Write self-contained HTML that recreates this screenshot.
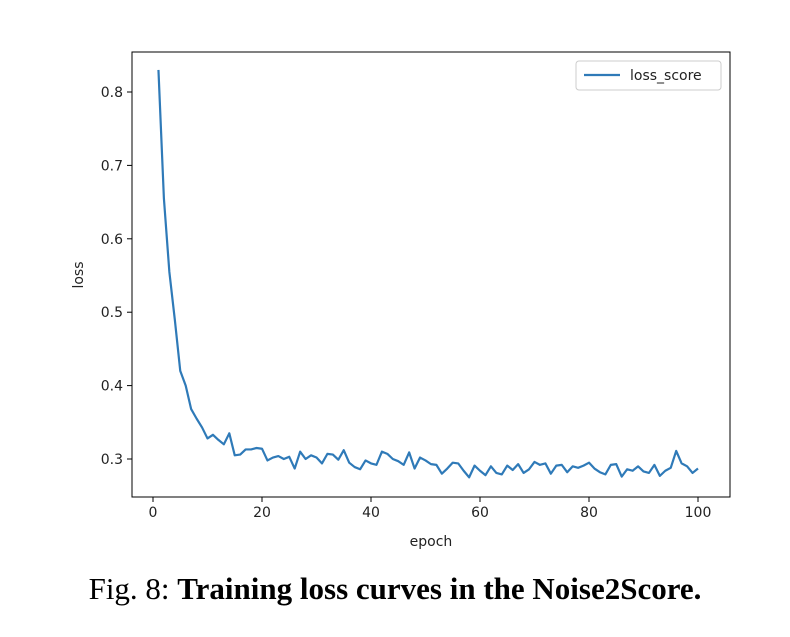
<!DOCTYPE html>
<html><head><meta charset="utf-8"><style>
body{margin:0;background:#fff;width:790px;height:637px;overflow:hidden}
svg text{font-family:"DejaVu Sans","Liberation Sans",sans-serif}
.cap{position:absolute;left:0;top:571px;width:790px;text-align:center;font-family:"Liberation Serif",serif;font-size:31px;color:#000;white-space:nowrap}
</style></head><body>
<svg id="chart" width="790" height="637" style="position:absolute;left:0;top:0"></svg>
<div class="cap">Fig. 8: <b>Training loss curves in the Noise2Score.</b></div>
<script>
const epochs = Array.from({length:100},(_,i)=>i+1);
const lossScore = [0.83,0.655,0.555,0.49,0.42,0.40,0.368,0.355,0.343,0.328,0.333,0.326,0.320,0.335,0.305,
0.306,0.313,0.313,0.315,0.314,0.298,0.302,0.304,0.300,0.303,0.287,0.310,0.300,0.305,0.302,
0.294,0.307,0.306,0.299,0.312,0.295,0.289,0.286,0.298,0.294,0.292,0.310,0.307,0.300,0.297,
0.292,0.309,0.287,0.302,0.298,0.293,0.292,0.280,0.287,0.295,0.294,0.284,0.275,0.291,0.284,
0.278,0.290,0.281,0.279,0.291,0.285,0.293,0.281,0.286,0.296,0.292,0.294,0.280,0.291,0.292,
0.282,0.290,0.288,0.291,0.295,0.287,0.282,0.279,0.292,0.293,0.276,0.286,0.284,0.290,0.283,
0.281,0.292,0.277,0.284,0.288,0.311,0.294,0.290,0.281,0.287];
const xTicks = [0,20,40,60,80,100];
const yTicks = [0.3,0.4,0.5,0.6,0.7,0.8];
const L=132,R=730,T=52,B=497;
const xS=v=>153+(v-0)*(698-153)/100;
const yS=v=>459-(v-0.3)*(459-92)/0.5;
const svg=document.getElementById('chart');
const NS='http://www.w3.org/2000/svg';
function mk(t,a,p){const e=document.createElementNS(NS,t);for(const k in a)e.setAttribute(k,a[k]);(p||svg).appendChild(e);return e;}
let frame=mk('rect',{x:L,y:T,width:R-L,height:B-T,fill:'none',stroke:'#000','stroke-width':1});


xTicks.forEach(v=>{
  const g=mk('g',{});
  
  
  mk('line',{x1:xS(v),x2:xS(v),y1:B,y2:B+5,stroke:'#000'},g);
  const t=mk('text',{x:xS(v),y:B+20,'text-anchor':'middle','font-size':14,fill:'#222'},g);t.textContent=v;
});
yTicks.forEach(v=>{
  const g=mk('g',{});
  
  
  mk('line',{x1:L-5,x2:L,y1:yS(v),y2:yS(v),stroke:'#000'},g);
  const t=mk('text',{x:L-9,y:yS(v)+5,'text-anchor':'end','font-size':14,fill:'#222'},g);t.textContent=v.toFixed(1);
});
let xt=mk('text',{x:431,y:546,'text-anchor':'middle','font-size':14,fill:'#222'});xt.textContent='epoch';


let yt=mk('text',{x:83,y:275,'text-anchor':'middle','font-size':14,fill:'#222',transform:'rotate(-90 83 275)'});yt.textContent='loss';


let line=mk('polyline',{points:epochs.map((e,i)=>xS(e)+','+yS(lossScore[i])).join(' '),fill:'none',stroke:'#2f7ab8','stroke-width':2.2,'stroke-linejoin':'round'});


const lg=mk('g',{});


mk('rect',{x:576,y:61,width:145,height:29,rx:3,fill:'#fff',stroke:'#ccc'},lg);
mk('line',{x1:584,x2:620,y1:75,y2:75,stroke:'#2f7ab8','stroke-width':2.2},lg);
const lt=mk('text',{x:630,y:80,'font-size':14,fill:'#222'},lg);lt.textContent='loss_score';
</script>
</body></html>
